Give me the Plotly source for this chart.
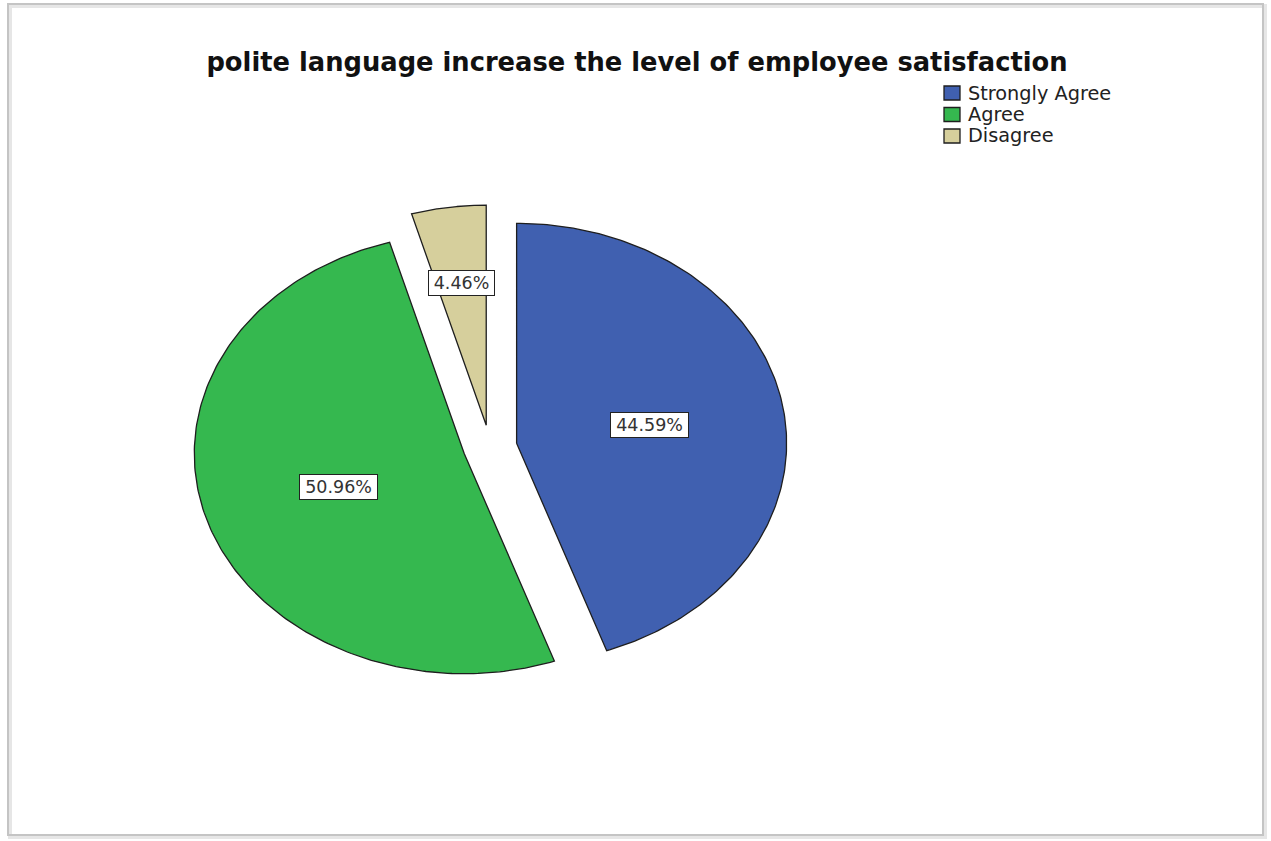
import numpy as np
import plotly.graph_objects as go

# Survey responses (percent of respondents)
categories = ["Strongly Agree", "Agree", "Disagree"]
percentages = [44.59, 50.96, 4.46]
colors = ["#4060B0", "#35B84F", "#D6CF9C"]

title_text = "polite language increase the level of employee satisfaction"

# Pie geometry in axis units: unit radius, slices exploded outward
explode = 0.10
label_radius = [0.50, 0.49, 0.655]

FONT = "DejaVu Sans, Verdana, sans-serif"
W, H = 1271, 841
cx, cy = 490, 447          # pie centre in pixels
rx, ry = 270, 220          # pixels per unit horizontally / vertically

fig = go.Figure()

total = sum(percentages)
start = 0.0  # degrees clockwise from 12 o'clock
for name, pct, col, lr in zip(categories, percentages, colors, label_radius):
    sweep = 360.0 * pct / total
    mid = np.radians(start + sweep / 2)
    ox, oy = explode * np.sin(mid), explode * np.cos(mid)
    theta = np.radians(np.linspace(start, start + sweep, 200))
    xs = np.concatenate([[ox], ox + np.sin(theta), [ox]])
    ys = np.concatenate([[oy], oy + np.cos(theta), [oy]])
    fig.add_trace(go.Scatter(
        x=xs, y=ys, mode="lines", fill="toself", fillcolor=col,
        line=dict(color="#1e1e1e", width=1.3), name=name,
        showlegend=False, hoverinfo="name",
    ))
    label = f"{pct:.2f}%"
    fig.add_annotation(
        x=ox + lr * np.sin(mid), y=oy + lr * np.cos(mid),
        text=label, showarrow=False, width=12.2 * len(label),
        font=dict(family=FONT, size=17.5, color="#333333"),
        bgcolor="white", bordercolor="#222222", borderwidth=1, borderpad=2,
    )
    start += sweep

# Legend: colour swatch + label for each category, top right
leg_x, leg_y0, leg_dy = 944, 93, 21.5
shapes = []
for i, (name, col) in enumerate(zip(categories, colors)):
    yc = leg_y0 + i * leg_dy
    shapes.append(dict(type="rect", xref="paper", yref="paper",
                       x0=leg_x / W, x1=(leg_x + 16) / W,
                       y0=1 - (yc + 7) / H, y1=1 - (yc - 7) / H,
                       fillcolor=col, line=dict(color="#1e1e1e", width=1.3)))
    fig.add_annotation(xref="paper", yref="paper", x=(leg_x + 22) / W, y=1 - yc / H,
                       xanchor="left", yanchor="middle", text=name, showarrow=False,
                       font=dict(family=FONT, size=19.3, color="#222222"))

# Outer frame with a soft shadow
shapes += [
    dict(type="rect", xref="paper", yref="paper",
         x0=10 / W, x1=1265 / W, y0=1 - 837 / H, y1=1 - 6 / H,
         line=dict(color="#e6e6e6", width=4), layer="below"),
    dict(type="rect", xref="paper", yref="paper",
         x0=8 / W, x1=1263 / W, y0=1 - 835 / H, y1=1 - 4 / H,
         line=dict(color="#c4c4c4", width=2), layer="below"),
]

fig.update_layout(
    width=W, height=H,
    margin=dict(l=0, r=0, t=0, b=0),
    paper_bgcolor="white", plot_bgcolor="white",
    xaxis=dict(range=[-cx / rx, (W - cx) / rx], visible=False, fixedrange=True),
    yaxis=dict(range=[-(H - cy) / ry, cy / ry], visible=False, fixedrange=True),
    showlegend=False,
    title=dict(text=f"<b>{title_text}</b>", x=637 / W, xanchor="center",
               y=1 - 62 / H, yanchor="middle",
               font=dict(family=FONT, size=25.75, color="#111111")),
    shapes=shapes,
)

fig.write_html("out.html")
